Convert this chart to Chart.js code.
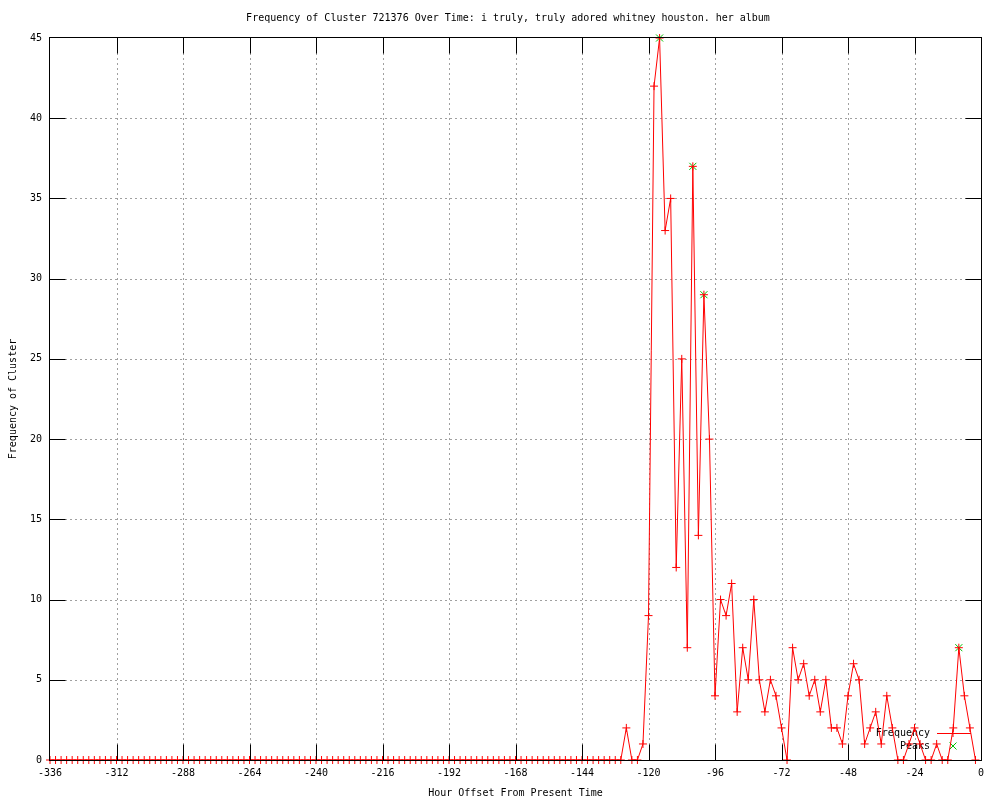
<!DOCTYPE html>
<html><head><meta charset="utf-8">
<script src="https://cdn.jsdelivr.net/npm/chart.js@4.4.0/dist/chart.umd.min.js"></script>
<style>html,body{margin:0;padding:0;background:#fff;}canvas{display:block;}</style>
</head><body>
<canvas id="c" width="1000" height="800"></canvas>
<script>
const hours = [-336,-334,-332,-330,-328,-326,-324,-322,-320,-318,-316,-314,-312,-310,-308,-306,-304,-302,-300,-298,-296,-294,-292,-290,-288,-286,-284,-282,-280,-278,-276,-274,-272,-270,-268,-266,-264,-262,-260,-258,-256,-254,-252,-250,-248,-246,-244,-242,-240,-238,-236,-234,-232,-230,-228,-226,-224,-222,-220,-218,-216,-214,-212,-210,-208,-206,-204,-202,-200,-198,-196,-194,-192,-190,-188,-186,-184,-182,-180,-178,-176,-174,-172,-170,-168,-166,-164,-162,-160,-158,-156,-154,-152,-150,-148,-146,-144,-142,-140,-138,-136,-134,-132,-130,-128,-126,-124,-122,-120,-118,-116,-114,-112,-110,-108,-106,-104,-102,-100,-98,-96,-94,-92,-90,-88,-86,-84,-82,-80,-78,-76,-74,-72,-70,-68,-66,-64,-62,-60,-58,-56,-54,-52,-50,-48,-46,-44,-42,-40,-38,-36,-34,-32,-30,-28,-26,-24,-22,-20,-18,-16,-14,-12,-10,-8,-6,-4,-2];
const frequency = [0,0,0,0,0,0,0,0,0,0,0,0,0,0,0,0,0,0,0,0,0,0,0,0,0,0,0,0,0,0,0,0,0,0,0,0,0,0,0,0,0,0,0,0,0,0,0,0,0,0,0,0,0,0,0,0,0,0,0,0,0,0,0,0,0,0,0,0,0,0,0,0,0,0,0,0,0,0,0,0,0,0,0,0,0,0,0,0,0,0,0,0,0,0,0,0,0,0,0,0,0,0,0,0,
2,0,0,1,9,42,45,33,35,12,25,7,37,14,29,20,4,10,9,11,3,7,5,10,5,3,5,4,2,0,7,5,6,4,5,3,5,2,2,1,4,6,5,1,2,3,1,4,2,0,0,1,2,1,0,0,1,0,0,2,7,4,2,0];
const peakHours = [-116,-104,-100,-8];
const peakValues = [45,37,29,7];
const xTickValues = [-336,-312,-288,-264,-240,-216,-192,-168,-144,-120,-96,-72,-48,-24,0];
const yTickValues = [0,5,10,15,20,25,30,35,40,45];
const titleText = 'Frequency of Cluster 721376 Over Time: i truly, truly adored whitney houston. her album';
const xTitle = 'Hour Offset From Present Time';
const yTitle = 'Frequency of Cluster';
const legendLabels = ['Frequency', 'Peaks'];
const FONT = "'DejaVu Sans Mono', 'Liberation Mono', monospace";
const RED = '#ff0000', GREEN = '#00c000';

const gnuplotFrame = {
  id: 'gnuplotFrame',
  beforeDatasetsDraw(chart) {
    const {ctx, chartArea: a, scales: {x, y}} = chart;
    ctx.save();
    ctx.strokeStyle = '#a0a0a0'; ctx.lineWidth = 1; ctx.setLineDash([2, 3]);
    x.ticks.forEach(t => {
      if (t.value <= x.min || t.value >= x.max) return;
      const px = Math.round(x.getPixelForValue(t.value)) + 0.5;
      ctx.beginPath(); ctx.moveTo(px, a.top); ctx.lineTo(px, a.bottom); ctx.stroke();
    });
    y.ticks.forEach(t => {
      if (t.value <= y.min || t.value >= y.max) return;
      const py = Math.round(y.getPixelForValue(t.value)) + 0.5;
      ctx.beginPath(); ctx.moveTo(a.left, py); ctx.lineTo(a.right, py); ctx.stroke();
    });
    ctx.setLineDash([]);
    // legend (inside, bottom right)
    ctx.font = '10px ' + FONT; ctx.fillStyle = '#000';
    ctx.textAlign = 'right'; ctx.textBaseline = 'middle';
    const tx = a.right - 51, sx1 = a.right - 44, sx2 = a.right - 10, mx = a.right - 28;
    const y1 = a.bottom - 27, y2 = a.bottom - 14;
    ctx.fillText(legendLabels[0], tx, y1);
    ctx.fillText(legendLabels[1], tx, y2);
    ctx.strokeStyle = RED; ctx.lineWidth = 1;
    ctx.beginPath(); ctx.moveTo(sx1, y1 + 0.5); ctx.lineTo(sx2, y1 + 0.5); ctx.stroke();
    ctx.beginPath(); ctx.moveTo(mx, y1 - 4); ctx.lineTo(mx, y1 + 4); ctx.moveTo(mx - 4, y1 + 0.5); ctx.lineTo(mx + 4, y1 + 0.5); ctx.stroke();
    ctx.strokeStyle = GREEN;
    ctx.beginPath(); ctx.moveTo(mx - 3.5, y2 - 3.5); ctx.lineTo(mx + 3.5, y2 + 3.5); ctx.moveTo(mx - 3.5, y2 + 3.5); ctx.lineTo(mx + 3.5, y2 - 3.5); ctx.stroke();
    ctx.restore();
  },
  afterDatasetsDraw(chart) {
    const {ctx, chartArea: a, scales: {x, y}} = chart;
    ctx.save();
    ctx.strokeStyle = '#000'; ctx.lineWidth = 1;
    const L = a.left - 0.5, R = a.right + 0.5, T = a.top - 0.5, B = a.bottom + 0.5;
    ctx.strokeRect(L, T, R - L, B - T);
    const tl = 16;
    ctx.beginPath();
    x.ticks.forEach(t => {
      if (t.value <= x.min || t.value >= x.max) return;
      const px = Math.round(x.getPixelForValue(t.value)) + 0.5;
      ctx.moveTo(px, B); ctx.lineTo(px, B - tl);
      ctx.moveTo(px, T); ctx.lineTo(px, T + tl);
    });
    y.ticks.forEach(t => {
      if (t.value <= y.min || t.value >= y.max) return;
      const py = Math.round(y.getPixelForValue(t.value)) + 0.5;
      ctx.moveTo(L, py); ctx.lineTo(L + tl, py);
      ctx.moveTo(R, py); ctx.lineTo(R - tl, py);
    });
    ctx.stroke();
    ctx.restore();
  }
};

new Chart(document.getElementById('c'), {
  type: 'line',
  data: {
    datasets: [
      {label: legendLabels[0], data: hours.map((h, i) => ({x: h, y: frequency[i]})),
       borderColor: RED, backgroundColor: RED, borderWidth: 1, tension: 0, fill: false,
       pointStyle: 'cross', pointRadius: 4, pointBorderColor: RED, pointBorderWidth: 1, clip: false},
      {label: legendLabels[1], data: peakHours.map((h, i) => ({x: h, y: peakValues[i]})),
       showLine: false, borderColor: GREEN, backgroundColor: GREEN,
       pointStyle: 'crossRot', pointRadius: 5, pointBorderColor: GREEN, pointBorderWidth: 1, clip: false}
    ]
  },
  options: {
    responsive: false, animation: false, devicePixelRatio: 1,
    layout: {padding: {left: 16, right: 0, top: 0, bottom: 0}},
    plugins: {
      legend: {display: false}, tooltip: {enabled: false},
      title: {display: true, text: titleText, color: '#000',
              font: {family: FONT, size: 10, weight: 'normal', lineHeight: 1.2},
              padding: {top: 12, bottom: 14}}
    },
    scales: {
      x: {type: 'linear', position: 'bottom', min: -336, max: 0,
          afterBuildTicks: s => { s.ticks = xTickValues.map(v => ({value: v})); },
          ticks: {color: '#000', font: {family: FONT, size: 10}, padding: 7, maxRotation: 0, autoSkip: false, callback: v => String(v)},
          grid: {display: false, drawTicks: false}, border: {display: false},
          title: {display: true, text: xTitle, color: '#000', font: {family: FONT, size: 10, lineHeight: 1.2}, padding: {top: 0, bottom: 1}},
          afterFit: s => { s.height = 40; }},
      y: {type: 'linear', position: 'left', min: 0, max: 45,
          afterBuildTicks: s => { s.ticks = yTickValues.map(v => ({value: v})); },
          ticks: {color: '#000', font: {family: FONT, size: 10}, padding: 8, autoSkip: false, callback: v => String(v)},
          grid: {display: false, drawTicks: false}, border: {display: false},
          title: {display: true, text: yTitle, color: '#000', font: {family: FONT, size: 10, lineHeight: 1.2}, padding: {top: -9, bottom: 0}},
          afterFit: s => { s.width = 34; }},
      y2: {type: 'linear', position: 'right', min: 0, max: 45,
           ticks: {display: false}, grid: {display: false, drawTicks: false}, border: {display: false},
           afterFit: s => { s.width = 19; }}
    }
  },
  plugins: [gnuplotFrame]
});
</script>
</body></html>
